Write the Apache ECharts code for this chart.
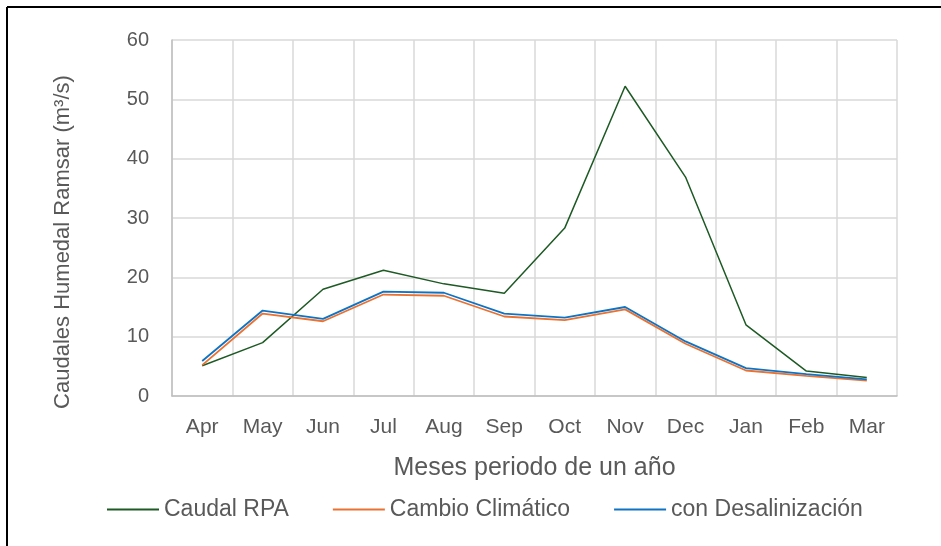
<!DOCTYPE html>
<html>
<head>
<meta charset="utf-8">
<style>
  html, body { margin: 0; padding: 0; background: #fff; }
  #chart { width: 941px; height: 546px; }
</style>
<script src="https://cdn.jsdelivr.net/npm/echarts@6/dist/echarts.min.js"></script>
</head>
<body>
<div id="chart"></div>
<script>
// Monthly flows at the Ramsar wetland over one hydrological year (m³/s)
const months = ['Apr', 'May', 'Jun', 'Jul', 'Aug', 'Sep', 'Oct', 'Nov', 'Dec', 'Jan', 'Feb', 'Mar'];
const caudalRPA = [5.1, 9.0, 18.0, 21.2, 18.9, 17.3, 28.3, 52.2, 36.9, 12.0, 4.2, 3.1];
const cambioClimatico = [5.2, 13.9, 12.6, 17.1, 16.9, 13.4, 12.8, 14.6, 8.8, 4.3, 3.4, 2.6];
const conDesalinizacion = [5.9, 14.4, 13.0, 17.6, 17.4, 13.9, 13.2, 15.0, 9.2, 4.7, 3.7, 2.8];
const yTicks = [0, 10, 20, 30, 40, 50, 60];

const font = '"Liberation Sans", Arial, sans-serif';
const textColor = '#595959';

const chart = echarts.init(document.getElementById('chart'), null, { renderer: 'canvas' });

const lineSeries = (name, data, color, width) => ({
  name: name,
  type: 'line',
  data: data,
  symbol: 'none',
  smooth: false,
  lineStyle: { color: color, width: width },
  itemStyle: { color: color },
  emphasis: { disabled: true }
});

chart.setOption({
  animation: false,
  backgroundColor: '#ffffff',
  grid: { left: 172, right: 44, top: 40, bottom: 150, containLabel: false },
  xAxis: {
    type: 'category',
    data: months,
    boundaryGap: true,
    name: 'Meses periodo de un año',
    nameLocation: 'middle',
    nameGap: 60,
    nameTextStyle: { fontFamily: font, fontSize: 25, color: textColor },
    axisLine: { show: true, lineStyle: { color: '#bfbfbf', width: 1.5 } },
    axisTick: { show: false },
    axisLabel: { fontFamily: font, fontSize: 21, color: textColor, margin: 21, interval: 0 },
    splitLine: { show: true, interval: 0, lineStyle: { color: '#d9d9d9', width: 1.5 } }
  },
  yAxis: {
    type: 'value',
    min: yTicks[0],
    max: yTicks[yTicks.length - 1],
    interval: 10,
    axisLine: { show: true, lineStyle: { color: '#bfbfbf', width: 1.5 } },
    axisTick: { show: false },
    axisLabel: { fontFamily: font, fontSize: 20, color: textColor, margin: 23 },
    splitLine: { show: true, lineStyle: { color: '#d9d9d9', width: 1.5 } }
  },
  legend: {
    top: 493,
    left: 102,
    itemGap: 44,
    itemWidth: 52,
    itemHeight: 2,
    icon: 'rect',
    textStyle: { fontFamily: font, fontSize: 23, color: textColor },
    data: ['Caudal RPA', 'Cambio Climático', 'con Desalinización']
  },
  graphic: [
    {
      type: 'text',
      x: 63, y: 242,
      rotation: Math.PI / 2,
      silent: true,
      style: {
        text: 'Caudales Humedal Ramsar (m³/s)',
        font: '22px "Liberation Sans", Arial, sans-serif',
        fill: textColor,
        textAlign: 'center',
        textVerticalAlign: 'middle'
      }
    },
    { type: 'line', shape: { x1: 7, y1: 7, x2: 941, y2: 7 }, style: { stroke: '#000', lineWidth: 2 }, silent: true },
    { type: 'line', shape: { x1: 7, y1: 7, x2: 7, y2: 546 }, style: { stroke: '#000', lineWidth: 2 }, silent: true }
  ],
  series: [
    lineSeries('Caudal RPA', caudalRPA, '#1d5a24', 1.5),
    lineSeries('Cambio Climático', cambioClimatico, '#e97132', 1.8),
    lineSeries('con Desalinización', conDesalinizacion, '#0f73c4', 1.8)
  ]
});
</script>
</body>
</html>
